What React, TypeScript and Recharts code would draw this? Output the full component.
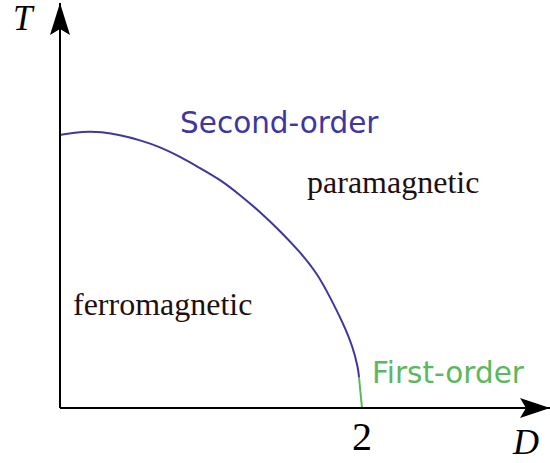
import React from "react";
import { ComposedChart, Line, XAxis, YAxis, ReferenceDot } from "recharts";

// Phase boundary in the (D, T) plane
const secondOrder = [
  { D: 0.0, T: 1.004 },
  { D: 0.099, T: 1.013 },
  { D: 0.199, T: 1.017 },
  { D: 0.265, T: 1.015 },
  { D: 0.397, T: 1.004 },
  { D: 0.53, T: 0.985 },
  { D: 0.662, T: 0.96 },
  { D: 0.795, T: 0.924 },
  { D: 0.927, T: 0.882 },
  { D: 1.06, T: 0.84 },
  { D: 1.192, T: 0.783 },
  { D: 1.325, T: 0.721 },
  { D: 1.457, T: 0.651 },
  { D: 1.589, T: 0.574 },
  { D: 1.702, T: 0.496 },
  { D: 1.788, T: 0.408 },
  { D: 1.874, T: 0.313 },
  { D: 1.94, T: 0.224 },
  { D: 1.974, T: 0.147 },
  { D: 1.98, T: 0.114 },
];

const firstOrder = [
  { D: 1.98, T: 0.114 },
  { D: 2.0, T: 0 },
];

const xTicks = [2];

const D_MAX = 3.245;
const T_MAX = 1.489;

const BLUE = "#3d379f";
const GREEN = "#5cb85c";
const INK = "#1f0f0f";

const SERIF = "'Liberation Serif', 'Times New Roman', serif";
const SANS = "'DejaVu Sans', Verdana, sans-serif";

type Note = {
  text: string;
  D: number;
  T: number;
  color: string;
  font: string;
  size: number;
  italic?: boolean;
};

const notes: Note[] = [
  { text: "Second-order", D: 0.795, T: 1.011, color: BLUE, font: SANS, size: 29.5 },
  { text: "First-order", D: 2.066, T: 0.092, color: GREEN, font: SANS, size: 29.5 },
  { text: "paramagnetic", D: 1.636, T: 0.79, color: INK, font: SERIF, size: 32 },
  { text: "ferromagnetic", D: 0.086, T: 0.342, color: INK, font: SERIF, size: 32 },
  { text: "T", D: -0.311, T: 1.39, color: "#000", font: SERIF, size: 35, italic: true },
  { text: "D", D: 3.0, T: -0.169, color: "#000", font: SERIF, size: 36, italic: true },
];

const arrowRight = (p: any) => (
  <path
    d={`M ${p.cx} ${p.cy} L ${p.cx - 30} ${p.cy - 10} L ${p.cx - 24} ${p.cy} L ${p.cx - 30} ${p.cy + 10} Z`}
    fill="#000"
  />
);

const arrowUp = (p: any) => (
  <path
    d={`M ${p.cx} ${p.cy} L ${p.cx - 10} ${p.cy + 32} L ${p.cx} ${p.cy + 26} L ${p.cx + 10} ${p.cy + 32} Z`}
    fill="#000"
  />
);

const renderTick = (p: any) => (
  <text
    x={p.x}
    y={p.y}
    dy={34}
    textAnchor="middle"
    fontFamily={SERIF}
    fontSize={40}
    fill="#000"
  >
    {p.payload.value}
  </text>
);

export default function App() {
  return (
    <div style={{ position: "absolute", left: 0, top: 0 }}>
      <ComposedChart
        width={550}
        height={463}
        margin={{ top: 3, right: 0, bottom: 0, left: 0 }}
      >
        <XAxis
          dataKey="D"
          type="number"
          domain={[0, D_MAX]}
          allowDataOverflow
          ticks={xTicks}
          tick={renderTick}
          tickLine={false}
          axisLine={{ stroke: "#000", strokeWidth: 2 }}
          height={55}
        />
        <YAxis
          type="number"
          domain={[0, T_MAX]}
          allowDataOverflow
          tick={false}
          tickLine={false}
          axisLine={{ stroke: "#000", strokeWidth: 2 }}
          width={60}
        />
        <Line
          data={secondOrder}
          dataKey="T"
          type="basis"
          stroke={BLUE}
          strokeWidth={2}
          dot={false}
          isAnimationActive={false}
        />
        <Line
          data={firstOrder}
          dataKey="T"
          type="linear"
          stroke={GREEN}
          strokeWidth={2}
          dot={false}
          isAnimationActive={false}
        />
        <ReferenceDot x={D_MAX} y={0} ifOverflow="visible" shape={arrowRight} />
        <ReferenceDot x={0} y={T_MAX} ifOverflow="visible" shape={arrowUp} />
        {notes.map((n) => (
          <ReferenceDot
            key={n.text}
            x={n.D}
            y={n.T}
            ifOverflow="visible"
            shape={(p: any) => (
              <text
                x={p.cx}
                y={p.cy}
                fill={n.color}
                fontFamily={n.font}
                fontSize={n.size}
                fontStyle={n.italic ? "italic" : "normal"}
              >
                {n.text}
              </text>
            )}
          />
        ))}
      </ComposedChart>
    </div>
  );
}
